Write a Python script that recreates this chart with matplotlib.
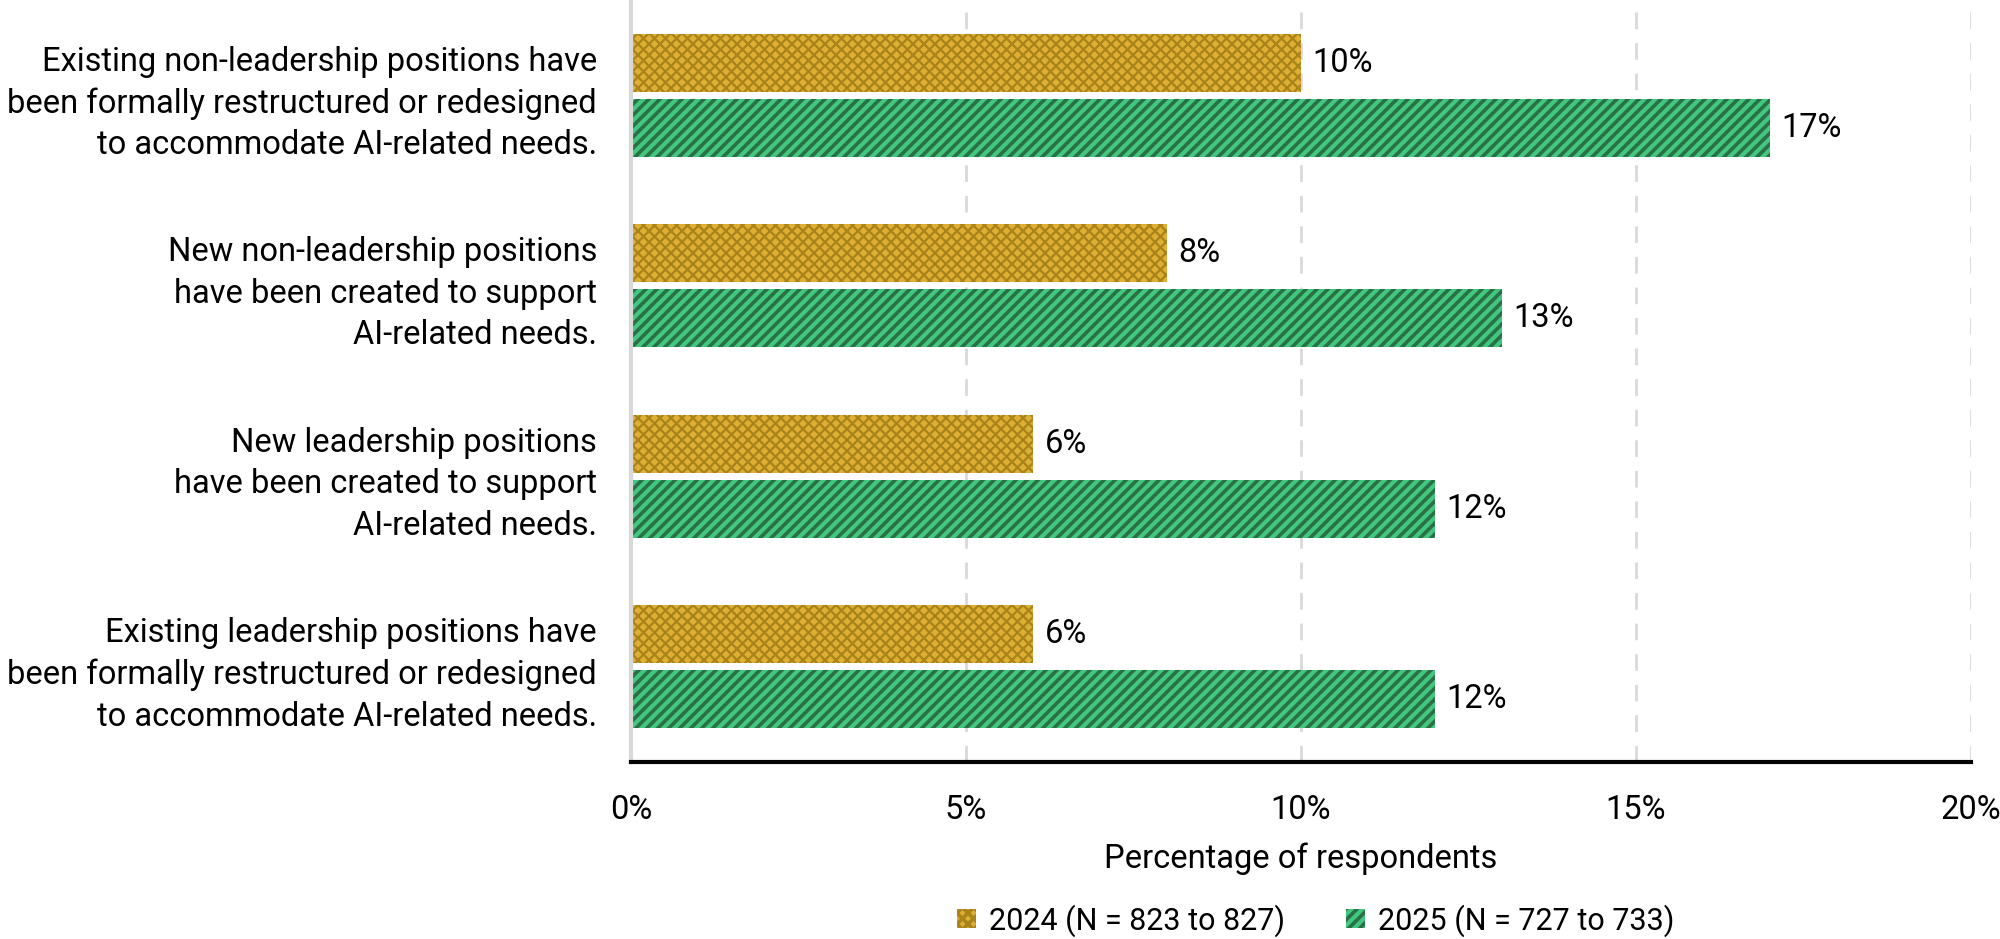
import matplotlib.pyplot as plt
import numpy as np

DPI = 132
S = 100 / DPI  # sizes below were picked for 100 dpi

plt.rcParams['font.family'] = ['Roboto', 'DejaVu Sans']

categories = [
    "Existing non-leadership positions have\nbeen formally restructured or redesigned\nto accommodate AI-related needs.",
    "New non-leadership positions\nhave been created to support\nAI-related needs.",
    "New leadership positions\nhave been created to support\nAI-related needs.",
    "Existing leadership positions have\nbeen formally restructured or redesigned\nto accommodate AI-related needs.",
]
vals_2024 = [10, 8, 6, 6]
vals_2025 = [17, 13, 12, 12]
label_2024 = "2024 (N = 823 to 827)"
label_2025 = "2025 (N = 727 to 733)"

fs = 23.5 * S

fig = plt.figure(figsize=(2000 / DPI, 939 / DPI), dpi=DPI)
ax = fig.add_axes([0.3155, 0.1885, 0.67, 0.8115])

y = np.arange(len(categories))[::-1]
h = 0.305
off = 0.171

plt.rcParams['hatch.linewidth'] = 2.3 * 72 / DPI
b1 = ax.barh(y + off, vals_2024, height=h, color='#DFAF33', edgecolor='#A8841A',
             hatch='xxxx', linewidth=0, label=label_2024)
plt.rcParams['hatch.linewidth'] = 3.6 * 72 / DPI
b2 = ax.barh(y - off, vals_2025, height=h, color='#41C77E', edgecolor='#2A7046',
             hatch='////', linewidth=0, label=label_2025)

for rect, v in zip(b1, vals_2024):
    ax.text(v + 0.17, rect.get_y() + rect.get_height() / 2, f"{v}%",
            va='center', ha='left', fontsize=fs)
for rect, v in zip(b2, vals_2025):
    ax.text(v + 0.17, rect.get_y() + rect.get_height() / 2, f"{v}%",
            va='center', ha='left', fontsize=fs)

ax.set_xlim(0, 20)
ax.set_ylim(-0.5, 3.5)
ax.set_xticks([0, 5, 10, 15, 20])
ax.set_xticklabels(["0%", "5%", "10%", "15%", "20%"], fontsize=fs)
ax.set_yticks(y)
ax.set_yticklabels(categories, fontsize=fs, linespacing=1.38)
ax.tick_params(axis='both', length=0)
ax.tick_params(axis='x', pad=23 * S)
ax.tick_params(axis='y', pad=24.5 * S)
ax.set_xlabel("Percentage of respondents", fontsize=fs, labelpad=12 * S)

ax.xaxis.grid(True, linestyle=(0, (6, 5)), color='#D9D9D9', linewidth=2 * S)
ax.set_axisbelow(True)
for s in ['top', 'right']:
    ax.spines[s].set_visible(False)
ax.spines['left'].set_color('#D9D9D9')
ax.spines['left'].set_linewidth(3 * S)
ax.spines['bottom'].set_color('black')
ax.spines['bottom'].set_linewidth(3 * S)

fig.legend(handles=[b1, b2], loc='center', bbox_to_anchor=(0.658, 0.02), ncol=2,
           frameon=False, fontsize=22 * S, handlelength=0.6, handleheight=0.6,
           handletextpad=0.45, columnspacing=2.0)

fig.savefig('out.png', dpi=DPI)
